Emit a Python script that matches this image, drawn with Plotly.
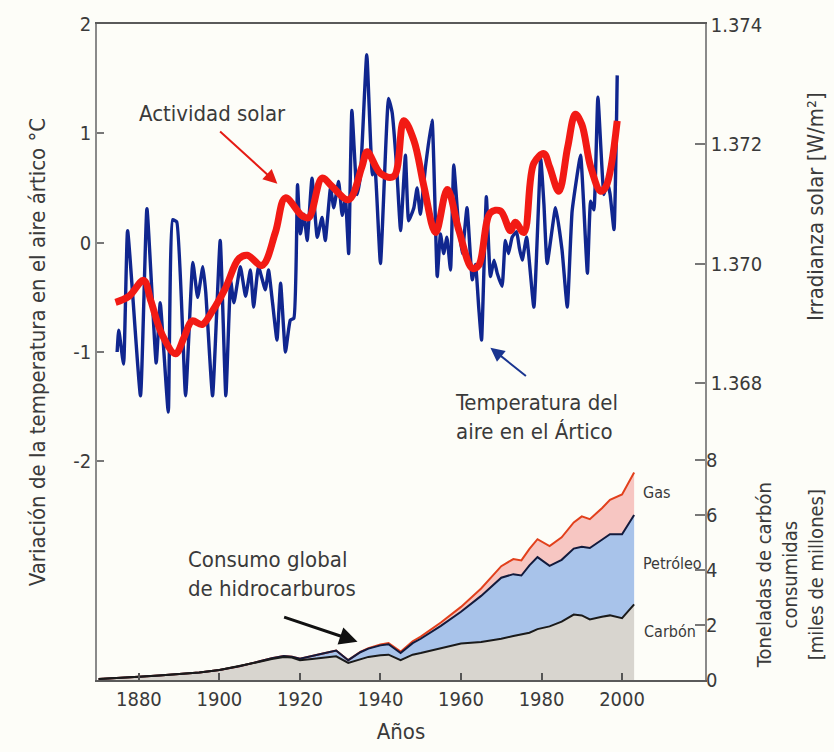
import plotly.graph_objects as go

# --- Temperatura del aire en el Ártico (°C, anomalía) ---
temp_years = [
    1874.6, 1875.0, 1876.2, 1877.2, 1880.4, 1882.0, 1884.3, 1885.3, 1887.3, 1888.4,
    1889.4, 1891.6, 1893.4, 1894.6, 1895.9, 1896.6, 1898.3, 1900.2, 1901.6, 1902.8,
    1903.6, 1905.2, 1906.5, 1907.7, 1908.5, 1909.7, 1911.4, 1912.2, 1913.2, 1914.3,
    1915.2, 1916.4, 1917.6, 1918.5, 1919.4, 1920.1, 1921.0, 1921.8, 1923.0, 1924.3,
    1925.5, 1926.3, 1927.6, 1928.4, 1929.6, 1930.5, 1931.3, 1932.1, 1932.9, 1934.2,
    1935.0, 1936.6, 1938.0, 1938.6, 1940.0, 1942.0, 1942.9, 1944.0, 1945.0, 1946.2,
    1947.0, 1948.3, 1949.1, 1949.9, 1951.2, 1952.8, 1954.1, 1954.9, 1955.7, 1956.5,
    1957.4, 1958.2, 1959.3, 1960.3, 1961.5, 1962.8, 1963.6, 1964.4, 1965.1, 1966.3,
    1967.3, 1968.2, 1969.0, 1970.2, 1971.0, 1971.8, 1972.7, 1973.8, 1974.5, 1975.2,
    1976.3, 1978.1, 1979.8, 1980.6, 1981.4, 1983.5, 1985.1, 1986.4, 1987.6, 1989.7,
    1990.4, 1991.4, 1992.2, 1993.0, 1994.0, 1995.5, 1996.3, 1997.0, 1998.0, 1998.8,
]
temp_values = [
    -1.00, -0.80, -1.11, 0.11, -1.40, 0.31, -1.10, -0.55, -1.55, 0.21,
    0.19, -1.40, -0.18, -0.50, -0.22, -0.45, -1.40, 0.02, -1.40, -0.35,
    -0.55, -0.22, -0.49, -0.25, -0.59, -0.22, -0.43, -0.25, -0.55, -0.89,
    -0.37, -1.00, -0.71, -0.69, 0.53, 0.08, 0.26, 0.02, 0.59, 0.05,
    0.23, 0.02, 0.50, 0.32, 0.56, 0.25, 0.40, -0.10, 1.21, 0.44,
    0.60, 1.72, 0.62, 0.70, -0.19, 1.32, 1.19, 0.70, 0.11, 0.80,
    0.20, 0.32, 0.50, 0.26, 0.70, 1.12, -0.31, 0.08, -0.10, 0.05,
    -0.25, 0.71, 0.20, -0.10, 0.32, -0.34, -0.20, -0.59, -0.89, 0.42,
    -0.31, -0.16, -0.28, -0.40, 0.02, -0.10, 0.05, 0.10, -0.05, -0.16,
    0.05, -0.59, 0.77, 0.35, -0.19, 0.32, -0.07, -0.59, 0.29, 0.80,
    0.40, -0.28, 0.38, 0.30, 1.33, 0.44, 0.55, 0.45, 0.12, 1.53,
]

# --- Irradianza solar (W/m², eje derecho superior) ---
solar_years = [
    1874.2, 1877.5, 1881.2, 1883.0, 1885.7, 1889.1, 1891.2, 1893.2, 1895.7, 1898.2,
    1901.5, 1904.8, 1906.9, 1910.6, 1913.9, 1916.4, 1920.5, 1922.2, 1925.5, 1928.0,
    1932.1, 1935.4, 1936.7, 1940.0, 1943.3, 1945.8, 1948.3, 1950.8, 1953.7, 1956.6,
    1959.5, 1962.8, 1964.4, 1967.3, 1969.8, 1972.3, 1973.5, 1975.6, 1978.1, 1980.6,
    1982.0, 1984.3, 1986.5, 1988.4, 1990.0, 1992.2, 1994.7, 1996.0, 1998.8,
]
solar_values = [
    1.36935, 1.36945, 1.36972, 1.36937, 1.36882, 1.36849, 1.36876, 1.36904, 1.36898, 1.36920,
    1.36959, 1.37008, 1.37014, 1.36997, 1.37052, 1.37110, 1.37080, 1.37077, 1.37143, 1.37129,
    1.37107, 1.37162, 1.37187, 1.37151, 1.37146, 1.37239, 1.37206, 1.37129, 1.37052, 1.37124,
    1.37055, 1.36992, 1.36997, 1.37085, 1.37088, 1.37055, 1.37069, 1.37052, 1.37168, 1.37184,
    1.37162, 1.37121, 1.37195, 1.37250, 1.37233, 1.37162, 1.37121, 1.37129, 1.37239,
]

# --- Consumo global de hidrocarburos (miles de millones de t de carbono) ---
fuel_years = [
    1870, 1875, 1880, 1885, 1890, 1895, 1900, 1905, 1910, 1913,
    1916, 1918, 1920, 1923, 1926, 1929, 1932, 1935, 1937, 1940,
    1942, 1945, 1948, 1950, 1955, 1960, 1965, 1970, 1973, 1975,
    1977, 1979, 1982, 1985, 1988, 1990, 1992, 1995, 1997, 2000, 2003,
]
coal = [
    0.04, 0.07, 0.12, 0.16, 0.21, 0.27, 0.36, 0.50, 0.66, 0.76,
    0.84, 0.82, 0.72, 0.76, 0.80, 0.86, 0.62, 0.76, 0.84, 0.90,
    0.92, 0.72, 0.92, 0.98, 1.15, 1.33, 1.38, 1.50, 1.60, 1.65,
    1.72, 1.85, 1.95, 2.12, 2.38, 2.35, 2.20, 2.30, 2.35, 2.25, 2.75,
]
oil = [
    0.0, 0.0, 0.0, 0.0, 0.0, 0.0, 0.0, 0.0, 0.02, 0.03,
    0.03, 0.03, 0.05, 0.10, 0.17, 0.21, 0.10, 0.25, 0.30, 0.36,
    0.38, 0.26, 0.42, 0.52, 0.82, 1.15, 1.68, 2.22, 2.25, 2.15,
    2.45, 2.62, 2.20, 2.25, 2.40, 2.50, 2.60, 2.80, 2.95, 3.05, 3.25,
]
gas = [
    0.0, 0.0, 0.0, 0.0, 0.0, 0.0, 0.0, 0.0, 0.0, 0.0,
    0.0, 0.0, 0.0, 0.0, 0.0, 0.0, 0.0, 0.01, 0.02, 0.03,
    0.04, 0.05, 0.07, 0.08, 0.12, 0.18, 0.27, 0.42, 0.55, 0.55,
    0.60, 0.65, 0.72, 0.82, 0.95, 1.10, 1.05, 1.15, 1.25, 1.45, 1.55,
]

x_ticks = [1880, 1900, 1920, 1940, 1960, 1980, 2000]
temp_ticks = [-2, -1, 0, 1, 2]
temp_tick_text = ["-2", "-1", "0", "1", "2"]
solar_ticks = [1.368, 1.370, 1.372, 1.374]
solar_tick_text = ["1.368", "1.370", "1.372", "1.374"]
fuel_ticks = [0, 2, 4, 6, 8]

FONT = "DejaVu Sans Condensed, Liberation Sans Narrow, Roboto Condensed, Roboto, sans-serif"
TXT = "#3a3a3a"
BG = "#fdfdf8"

# cumulative boundaries of the stacked areas, used for the outline strokes
coal_top = coal
oil_top = [c + o for c, o in zip(coal, oil)]
gas_top = [c + o + g for c, o, g in zip(coal, oil, gas)]

fig = go.Figure()

# stacked fuel areas (fills only)
for vals, fill, name in [(coal, "#d8d5cf", "Carbón"),
                         (oil, "#a8c3ea", "Petróleo"),
                         (gas, "#f7c6c2", "Gas")]:
    fig.add_trace(go.Scatter(
        x=fuel_years, y=vals, yaxis="y3", stackgroup="fuel", mode="none",
        fillcolor=fill, name=name, hoverinfo="skip",
    ))

# outlines: gas on the bottom, then oil, then coal on top
fig.add_trace(go.Scatter(x=fuel_years, y=gas_top, yaxis="y3", mode="lines",
                         line=dict(color="#e2401c", width=2), name="Total"))
fig.add_trace(go.Scatter(x=fuel_years, y=oil_top, yaxis="y3", mode="lines",
                         line=dict(color="#121a3c", width=2), name="Carbón + petróleo"))
fig.add_trace(go.Scatter(x=fuel_years, y=coal_top, yaxis="y3", mode="lines",
                         line=dict(color="#1a1a1a", width=2), name="Carbón"))

# Arctic air temperature
fig.add_trace(go.Scatter(
    x=temp_years, y=temp_values, yaxis="y", mode="lines",
    line=dict(color="#10268f", width=3.4, shape="spline", smoothing=0.4),
    name="Temperatura",
))

# solar irradiance
fig.add_trace(go.Scatter(
    x=solar_years, y=solar_values, yaxis="y2", mode="lines",
    line=dict(color="#f21a14", width=7, shape="spline", smoothing=1.0),
    name="Actividad solar",
))

tick_font = dict(family=FONT, size=20, color=TXT)
title_font = dict(family=FONT, size=22, color=TXT)

fig.update_layout(
    width=834, height=752,
    margin=dict(l=97, r=129, t=20, b=69),
    paper_bgcolor=BG, plot_bgcolor=BG,
    showlegend=False,
    font=dict(family=FONT, color=TXT),
    xaxis=dict(
        range=[1869.6, 2020.6], tickvals=x_ticks, ticks="inside", ticklen=7,
        tickcolor="#555", tickwidth=1.5, showgrid=False, zeroline=False,
        showline=True, linecolor="#5a5a5a", linewidth=1.5, mirror=True,
        tickfont=tick_font,
        title=dict(text="Años", font=title_font, standoff=14),
    ),
    yaxis=dict(
        range=[-4, 2], tickvals=temp_ticks, ticktext=temp_tick_text,
        ticks="inside", ticklen=7,
        tickcolor="#777", tickwidth=1.5, showgrid=False, zeroline=False,
        showline=True, linecolor="#8a8a8a", linewidth=1.5,
        tickfont=tick_font,
        title=dict(text="Variación de la temperatura en el aire ártico °C",
                   font=title_font, standoff=22),
    ),
    yaxis2=dict(
        range=[1.36303, 1.37401], overlaying="y", side="right",
        tickvals=solar_ticks, ticktext=solar_tick_text, ticks="inside", ticklen=10,
        tickcolor="#777", tickwidth=1.5, showgrid=False, zeroline=False,
        showline=True, linecolor="#8a8a8a", linewidth=1.5,
        tickfont=tick_font,
    ),
    yaxis3=dict(
        range=[0, 23.86], overlaying="y", side="right",
        tickvals=fuel_ticks, ticks="inside", ticklen=10,
        tickcolor="#777", tickwidth=1.5, showgrid=False, zeroline=False,
        showline=False, tickfont=tick_font,
    ),
)

ann_font = dict(family=FONT, size=22, color=TXT)
small_font = dict(family=FONT, size=16, color=TXT)
side_font = dict(family=FONT, size=20, color=TXT)

annotations = [
    # series labels
    dict(text="Actividad solar", x=1898.3, y=1.18, xref="x", yref="y",
         showarrow=False, font=ann_font),
    dict(text="", x=1914.4, y=0.54, ax=1899.8, ay=1.03, xref="x", yref="y",
         axref="x", ayref="y", showarrow=True, arrowhead=2, arrowsize=1.4,
         arrowwidth=2, arrowcolor="#e51b14"),
    dict(text="Temperatura del<br>aire en el Ártico", x=1957.9, y=-1.59,
         xref="x", yref="y", xanchor="left", yanchor="middle", align="left",
         showarrow=False, font=ann_font),
    dict(text="", x=1967.3, y=-0.96, ax=1976.5, ay=-1.23, xref="x", yref="y",
         axref="x", ayref="y", showarrow=True, arrowhead=2, arrowsize=1.4,
         arrowwidth=2, arrowcolor="#1a3590"),
    dict(text="Consumo global<br>de hidrocarburos", x=1891.6, y=-3.03,
         xref="x", yref="y", xanchor="left", yanchor="middle", align="left",
         showarrow=False, font=ann_font),
    dict(text="", x=1934.3, y=-3.65, ax=1915.7, ay=-3.42, xref="x", yref="y",
         axref="x", ayref="y", showarrow=True, arrowhead=2, arrowsize=1.2,
         arrowwidth=3, arrowcolor="#111111"),
    # fuel labels
    dict(text="Gas", x=2004.6, y=6.83, xref="x", yref="y3", xanchor="left",
         showarrow=False, font=small_font),
    dict(text="Petróleo", x=2004.6, y=4.23, xref="x", yref="y3", xanchor="left",
         showarrow=False, font=small_font),
    dict(text="Carbón", x=2005.0, y=1.78, xref="x", yref="y3", xanchor="left",
         showarrow=False, font=small_font),
    # right-hand axis titles
    dict(text="Irradianza solar [W/m²]", x=1.181, y=0.721, xref="paper", yref="paper",
         xanchor="center", yanchor="middle",
         textangle=-90, showarrow=False, font=ann_font),
    dict(text="Toneladas de carbón<br>consumidas<br>[miles de millones]",
         x=1.14, y=0.16, xref="paper", yref="paper", textangle=-90,
         xanchor="center", yanchor="middle",
         showarrow=False, font=side_font),
]
fig.update_layout(annotations=annotations)

fig.write_html("out.html")
